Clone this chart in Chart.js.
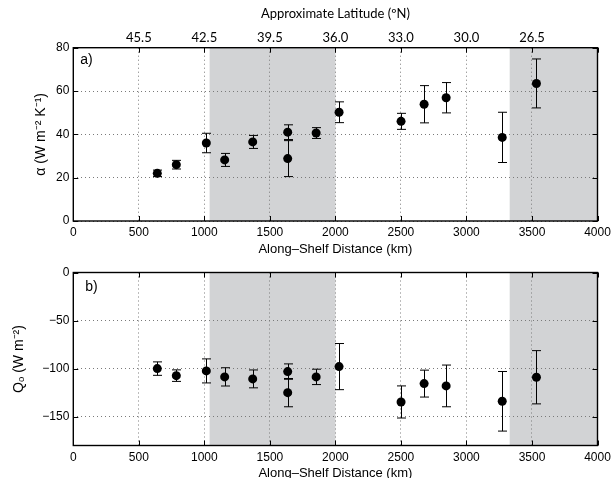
<!DOCTYPE html>
<html>
<head>
<meta charset="utf-8">
<script src="https://cdn.jsdelivr.net/npm/chart.js@4.4.0/dist/chart.umd.min.js"></script>
<style>
html,body{margin:0;padding:0;background:#fff;overflow:hidden;width:614px;height:478px;}
#chartA{position:absolute;left:0;top:0;}
#chartB{position:absolute;left:0;top:260px;}
</style>
</head>
<body>
<canvas id="chartA" width="614" height="260"></canvas>
<canvas id="chartB" width="614" height="230"></canvas>
<script>
// along-shelf distance of each station (km)
var dist = [641, 786, 1015, 1155, 1369, 1636, 1636, 1853, 2028, 2501, 2677, 2845, 3273, 3534];
// panel a: alpha and its error
var alpha = [22, 26, 36, 28.2, 36.5, 41, 28.8, 40.6, 50.2, 46, 53.9, 56.9, 38.6, 63.5];
var alphaErr = [1.5, 2, 4.5, 3, 3, 3.4, 8.3, 2.5, 4.8, 3.7, 8.6, 7, 11.6, 11.3];
// panel b: Qo and its error
var qo = [-100, -107.3, -102.4, -108.6, -110.7, -103.1, -125, -108.6, -97.9, -134.7, -115.6, -118, -134, -109];
var qoErr = [7, 6, 12.5, 9.5, 9.3, 8, 14.7, 8, 24, 16.7, 14, 21.7, 31, 27.7];

var xTicks = [0, 500, 1000, 1500, 2000, 2500, 3000, 3500, 4000];
var latTicks = [500, 1000, 1500, 2000, 2500, 3000, 3500];
var latLabels = ['45.5', '42.5', '39.5', '36.0', '33.0', '30.0', '26.5'];
var alphaTicks = [0, 20, 40, 60, 80];
var qoTicks = [-150, -100, -50, 0];
var shaded = [[1040, 2000], [3330, 4000]];

Chart.defaults.font.family = 'Liberation Sans, Arial, sans-serif';
Chart.defaults.color = '#000';

var panelPlugin = {
  id: 'panel',
  beforeDraw: function(chart){
    var a = chart.chartArea, x = chart.scales.x, ctx = chart.ctx;
    ctx.save();
    ctx.fillStyle = '#d2d3d5';
    shaded.forEach(function(s){
      var x0 = x.getPixelForValue(s[0]), x1 = x.getPixelForValue(s[1]);
      ctx.fillRect(x0, a.top, x1 - x0, a.bottom - a.top);
    });
    ctx.restore();
  },
  beforeDatasetsDraw: function(chart, args, opts){
    var x = chart.scales.x, y = chart.scales.y, ctx = chart.ctx;
    ctx.save();
    ctx.strokeStyle = '#000';
    ctx.lineWidth = 1;
    for (var i = 0; i < dist.length; i++) {
      var px = Math.round(x.getPixelForValue(dist[i])) + 0.5;
      var y0 = y.getPixelForValue(opts.vals[i] - opts.err[i]);
      var y1 = y.getPixelForValue(opts.vals[i] + opts.err[i]);
      ctx.beginPath();
      ctx.moveTo(px, y0); ctx.lineTo(px, y1);
      ctx.moveTo(px - 4.5, y0); ctx.lineTo(px + 4.5, y0);
      ctx.moveTo(px - 4.5, y1); ctx.lineTo(px + 4.5, y1);
      ctx.stroke();
    }
    ctx.restore();
  },
  afterDraw: function(chart, args, opts){
    var a = chart.chartArea, x = chart.scales.x, y = chart.scales.y, ctx = chart.ctx;
    ctx.save();
    ctx.strokeStyle = '#000';
    ctx.lineWidth = 1;
    ctx.beginPath();
    xTicks.forEach(function(v){
      var px = Math.round(x.getPixelForValue(v)) + 0.5;
      ctx.moveTo(px, a.bottom); ctx.lineTo(px, a.bottom - 5);
      ctx.moveTo(px, a.top); ctx.lineTo(px, a.top + 5);
    });
    opts.yTicks.forEach(function(v){
      var py = Math.round(y.getPixelForValue(v)) + 0.5;
      ctx.moveTo(a.left, py); ctx.lineTo(a.left + 5, py);
      ctx.moveTo(a.right, py); ctx.lineTo(a.right - 5, py);
    });
    ctx.stroke();
    ctx.lineWidth = 1.4;
    ctx.strokeRect(a.left, a.top, a.right - a.left, a.bottom - a.top);
    ctx.fillStyle = '#000';
    ctx.font = '14px Liberation Sans, Arial, sans-serif';
    ctx.textBaseline = 'middle';
    ctx.fillText(opts.label, a.left + opts.lx, a.top + opts.ly);
    ctx.restore();
  }
};

function minus(v){ return String(v).replace('-', '\u2212'); }

function xScale(h){
  return {
    type: 'linear', position: 'bottom', min: 0, max: 4000,
    afterBuildTicks: function(s){ s.ticks = xTicks.map(function(v){ return {value: v}; }); },
    afterFit: function(s){ s.height = h; s.paddingLeft = 0; s.paddingRight = 0; },
    ticks: {font: {size: 12}, padding: 4.5, maxRotation: 0, autoSkip: false, callback: function(v){ return String(v); }},
    grid: {color: '#7a7a7a', drawTicks: false},
    border: {display: false, dash: [1, 3]},
    title: {display: true, text: 'Along\u2013Shelf Distance (km)', font: {size: 13}, padding: {top: 0, bottom: h === 39 ? 2.9 : 9.2}}
  };
}

function yScale(min, max, ticks, w, label){
  return {
    type: 'linear', min: min, max: max,
    afterBuildTicks: function(s){ s.ticks = ticks.map(function(v){ return {value: v}; }); },
    afterFit: function(s){ s.width = w; s.paddingTop = 0; s.paddingBottom = 0; },
    ticks: {font: {size: 12}, padding: 4, callback: minus},
    grid: {color: '#7a7a7a', drawTicks: false},
    border: {display: false, dash: [1, 3]},
    title: {display: true, text: label, font: {size: 14}, padding: {top: 0, bottom: 0}}
  };
}

function points(vals){
  return dist.map(function(d, i){ return {x: d, y: vals[i]}; });
}

var ds = {
  pointRadius: 4.5, pointHoverRadius: 4.5,
  backgroundColor: '#000', borderColor: '#000', borderWidth: 0, showLine: false
};

new Chart(document.getElementById('chartA'), {
  type: 'scatter',
  data: {datasets: [Object.assign({data: points(alpha)}, ds)]},
  options: {
    responsive: false, animation: false, events: [],
    layout: {padding: {left: 33, right: 16.5, top: 0, bottom: 0}},
    plugins: {
      legend: {display: false}, tooltip: {enabled: false},
      panel: {vals: alpha, err: alphaErr, yTicks: alphaTicks, label: 'a)', lx: 7, ly: 12.5}
    },
    scales: {
      x: xScale(39),
      x2: {
        type: 'linear', position: 'top', min: 0, max: 4000,
        afterBuildTicks: function(s){ s.ticks = latTicks.map(function(v){ return {value: v}; }); },
        afterFit: function(s){ s.height = 47.7; s.paddingLeft = 0; s.paddingRight = 0; },
        ticks: {font: {family: 'Lato', size: 13}, padding: 2, maxRotation: 0, autoSkip: false,
          callback: function(v){ return latLabels[latTicks.indexOf(v)]; }},
        grid: {display: false, drawTicks: false},
        border: {display: false},
        title: {display: true, text: 'Approximate Latitude (\u00baN)', font: {family: 'Lato', size: 13}, padding: {top: 6.2, bottom: 0}}
      },
      y: yScale(0, 80, alphaTicks, 40.3, '\u03b1 (W m\u207b\u00b2 K\u207b\u00b9)')
    }
  },
  plugins: [panelPlugin]
});

new Chart(document.getElementById('chartB'), {
  type: 'scatter',
  data: {datasets: [Object.assign({data: points(qo)}, ds)]},
  options: {
    responsive: false, animation: false, events: [],
    layout: {padding: {left: 11, right: 16.5, top: 12.5, bottom: 0}},
    plugins: {
      legend: {display: false}, tooltip: {enabled: false},
      panel: {vals: qo, err: qoErr, yTicks: qoTicks, label: 'b)', lx: 12, ly: 15}
    },
    scales: {
      x: xScale(44.5),
      y: yScale(-180, 0, qoTicks, 62.3, 'Q\u2092 (W m\u207b\u00b2)')
    }
  },
  plugins: [panelPlugin]
});
</script>
</body>
</html>
